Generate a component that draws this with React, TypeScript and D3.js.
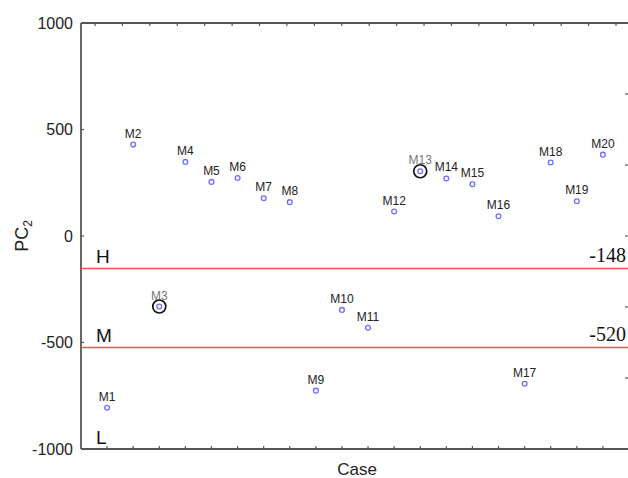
import React from "react";
import * as d3 from "d3";

const cases = ["M1","M2","M3","M4","M5","M6","M7","M8","M9","M10","M11","M12","M13","M14","M15","M16","M17","M18","M19","M20"];
const pc2 = [-806, 429, -331, 348, 254, 272, 177, 159, -726, -347, -431, 115, 304, 270, 243, 93, -694, 345, 163, 382];
const highlighted = ["M3", "M13"];
const yTicks = [1000, 500, 0, -500, -1000];
const thresholds = [-148, -520];
const thresholdLabels = ["-148", "-520"];
const zoneLabels = ["H", "M", "L"];
const zoneValues = [-148, -520, -1000];

export default function App() {
  const W = 628, H = 478;
  const left = 81, right = 629, top = 23, bottom = 449;
  const x = d3.scaleLinear().domain([0, 21]).range([left, right]);
  const y = d3.scaleLinear().domain([-1000, 1000]).range([bottom, top]);
  const topTick = d3.scaleLinear().domain([1, 20]).range([95, 616]);
  const rightTick = d3.scaleLinear().domain([0, 6]).range([top, bottom]);
  const axisColor = "#555";
  return (
    <svg width={W} height={H} style={{ position: "absolute", left: 0, top: 0, background: "#fff" }} fontFamily="Liberation Sans, Arial, sans-serif">
      {/* frame */}
      <line x1={left} y1={top} x2={left} y2={bottom} stroke={axisColor} strokeWidth={1.8} />
      <line x1={left} y1={bottom} x2={right} y2={bottom} stroke={axisColor} strokeWidth={1.8} />
      <line x1={left} y1={top} x2={right} y2={top} stroke={axisColor} strokeWidth={1.8} />
      <line x1={right} y1={top} x2={right} y2={bottom} stroke={axisColor} strokeWidth={1.8} />
      {/* bottom ticks */}
      {cases.map((c, i) => (
        <line key={"bt" + c} x1={x(i + 1)} x2={x(i + 1)} y1={bottom} y2={bottom - 3} stroke={axisColor} strokeWidth={1.2} />
      ))}
      {/* top ticks */}
      {cases.map((c, i) => (
        <line key={"tt" + c} x1={topTick(i + 1)} x2={topTick(i + 1)} y1={top} y2={top + 3} stroke={axisColor} strokeWidth={1.2} />
      ))}
      {/* right ticks */}
      {d3.range(1, 6).map((k) => (
        <line key={"rt" + k} x1={right - 4} x2={right} y1={rightTick(k)} y2={rightTick(k)} stroke={axisColor} strokeWidth={1.2} />
      ))}
      {/* y ticks */}
      {yTicks.map((t) => (
        <g key={"yt" + t}>
          <line x1={left} x2={left + 3} y1={y(t)} y2={y(t)} stroke={axisColor} strokeWidth={1.2} />
          <text x={73} y={y(t)} dy="0.35em" textAnchor="end" fontSize={16} fill="#222">{t}</text>
        </g>
      ))}
      {/* thresholds */}
      {thresholds.map((t, i) => (
        <g key={"th" + t}>
          <line x1={left} x2={right} y1={Math.round(y(t)) + 0.5} y2={Math.round(y(t)) + 0.5} stroke="#ff4d4d" strokeWidth={1.3} />
          <text x={626} y={y(t) - 6} textAnchor="end" fontSize={20} fontFamily="Liberation Serif, Times New Roman, serif" fill="#111">{thresholdLabels[i]}</text>
        </g>
      ))}
      {zoneLabels.map((z, i) => (
        <text key={"z" + z} x={96} y={y(zoneValues[i]) - 5} fontSize={19} fill="#111">{z}</text>
      ))}
      {/* points */}
      {cases.map((c, i) => {
        const hl = highlighted.includes(c);
        return (
          <g key={c}>
            <text x={x(i + 1)} y={y(pc2[i]) - 7} textAnchor="middle" fontSize={12} fill={hl ? "#777" : "#222"}>{c}</text>
            {hl && <circle cx={x(i + 1)} cy={y(pc2[i])} r={6.5} fill="none" stroke="#111" strokeWidth={1.7} />}
            <circle cx={x(i + 1)} cy={y(pc2[i])} r={2.4} fill="none" stroke="#6f6fff" strokeWidth={1.3} />
          </g>
        );
      })}
      {/* axis titles */}
      <text x={357} y={475} textAnchor="middle" fontSize={17} fill="#222">Case</text>
      <text transform={`translate(28, ${y(0)}) rotate(-90)`} textAnchor="middle" fontSize={18} fill="#222">
        PC<tspan fontSize={12} dy={4}>2</tspan>
      </text>
    </svg>
  );
}
